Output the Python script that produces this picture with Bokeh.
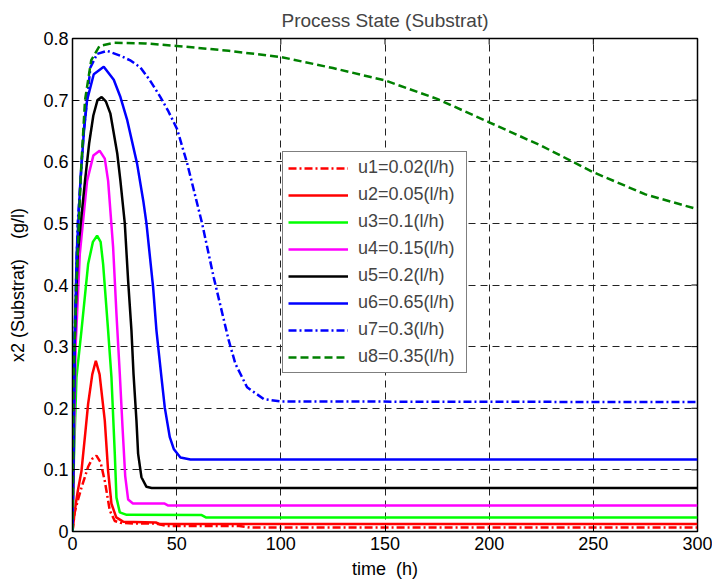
import math
from bokeh.plotting import figure
from bokeh.models import Range1d, FixedTicker, Legend, LegendItem, CustomJSTickFormatter
from bokeh.embed import file_html
from bokeh.resources import INLINE

# ---- data ----
t_u1 = [0, 1, 2.5, 4.3, 7.5, 9.5, 11.5, 13.5, 15.5, 17.9, 20.3, 23, 30, 40, 45, 80, 85, 300]
y_u1 = [0, 0.03, 0.05, 0.071, 0.105, 0.118, 0.123, 0.112, 0.082, 0.034, 0.017, 0.014, 0.013, 0.013, 0.009, 0.009, 0.0065, 0.0065]

t_u2 = [0, 1.1, 2.5, 4.3, 6, 7.5, 9.5, 11.2, 13, 15.5, 17.1, 18.7, 21, 24.3, 40, 42, 300]
y_u2 = [0, 0.034, 0.065, 0.098, 0.155, 0.207, 0.255, 0.277, 0.255, 0.18, 0.098, 0.045, 0.023, 0.016, 0.0146, 0.012, 0.012]

t_u3 = [0, 0.7, 1.9, 4.3, 7.5, 9.8, 11.8, 13.5, 14.7, 17.1, 18.7, 20.3, 21.1, 22.7, 26, 62, 64, 300]
y_u3 = [0, 0.12, 0.25, 0.326, 0.434, 0.47, 0.48, 0.47, 0.434, 0.326, 0.25, 0.126, 0.055, 0.031, 0.027, 0.0266, 0.0228, 0.0228]

t_u4 = [0, 1.5, 3.5, 7, 10, 13, 15.5, 17.1, 19.5, 21.1, 22.7, 24, 25.3, 26.7, 29, 44, 46, 300]
y_u4 = [0, 0.3, 0.45, 0.569, 0.61, 0.618, 0.605, 0.569, 0.461, 0.353, 0.256, 0.17, 0.09, 0.052, 0.0455, 0.0455, 0.042, 0.042]

t_u5 = [0, 1, 2.5, 6, 8, 10, 12, 14, 16, 18.2, 21.5, 23, 25.1, 26.7, 28.3, 29.3, 30.7, 31.5, 33.1, 35.5, 38, 300]
y_u5 = [0, 0.3, 0.45, 0.569, 0.63, 0.675, 0.70, 0.705, 0.698, 0.678, 0.613, 0.569, 0.50, 0.407, 0.326, 0.255, 0.18, 0.126, 0.088, 0.0725, 0.0705, 0.0705]

t_u6 = [0, 1, 2, 3.8, 5.5, 7, 10.2, 15, 19.8, 23, 26.3, 31, 34, 35.5, 38.7, 40.3, 42.7, 44.3, 46.7, 48.6, 51.8, 56.6, 300]
y_u6 = [0, 0.3, 0.45, 0.569, 0.65, 0.70, 0.742, 0.754, 0.733, 0.705, 0.667, 0.597, 0.536, 0.50, 0.396, 0.326, 0.25, 0.201, 0.153, 0.134, 0.120, 0.117, 0.117]

t_u7 = [0, 1, 2.5, 5.4, 8.6, 11.8, 16.6, 23, 28, 32.6, 37, 42.2, 46, 50.2, 55, 62.2, 67.8, 75, 78.2, 83.8, 91.8, 99.8, 300]
y_u7 = [0, 0.32, 0.5, 0.65, 0.753, 0.775, 0.780, 0.772, 0.764, 0.753, 0.733, 0.705, 0.682, 0.653, 0.598, 0.50, 0.412, 0.31, 0.272, 0.234, 0.215, 0.211, 0.21]

t_u8 = [0, 0.5, 2, 4, 6, 9, 13, 20, 35, 50, 75, 100, 125, 150, 175, 200, 225, 250, 275, 300]
y_u8 = [0, 0.25, 0.41, 0.58, 0.70, 0.765, 0.788, 0.793, 0.792, 0.788, 0.78, 0.77, 0.752, 0.732, 0.702, 0.664, 0.626, 0.583, 0.547, 0.523]

labels = ["u1=0.02(l/h)", "u2=0.05(l/h)", "u3=0.1(l/h)", "u4=0.15(l/h)",
          "u5=0.2(l/h)", "u6=0.65(l/h)", "u7=0.3(l/h)", "u8=0.35(l/h)"]
x_ticks = [0, 50, 100, 150, 200, 250, 300]
y_ticks = [0, 0.1, 0.2, 0.3, 0.4, 0.5, 0.6, 0.7, 0.8]

series = [(t_u1, y_u1), (t_u2, y_u2), (t_u3, y_u3), (t_u4, y_u4),
          (t_u5, y_u5), (t_u6, y_u6), (t_u7, y_u7), (t_u8, y_u8)]
colors = ["#FF0000", "#FF0000", "#00FF00", "#FF00FF", "#000000", "#0000FF", "#0000FF", "#008000"]
dashes = ["8 3 2 3", "solid", "solid", "solid", "solid", "solid", "8 3 2 3", "8 4"]

FONT = "Liberation Sans"

p = figure(width=712, height=585, output_backend="svg", toolbar_location=None,
           x_range=Range1d(x_ticks[0], x_ticks[-1]), y_range=Range1d(y_ticks[0], y_ticks[-1]),
           min_border_left=72, min_border_right=15, min_border_top=38, min_border_bottom=54,
           title="Process State (Substrat)")

p.title.align = "center"
p.title.vertical_align = "middle"
p.title.text_font = FONT
p.title.text_font_size = "19px"
p.title.text_font_style = "normal"
p.title.standoff = 13

p.outline_line_color = "black"
p.outline_line_width = 1.5
p.background_fill_color = "white"
p.border_fill_color = "white"

xt = FixedTicker(ticks=x_ticks)
yt = FixedTicker(ticks=y_ticks)
p.xaxis.ticker = xt
p.yaxis.ticker = yt
p.yaxis.formatter = CustomJSTickFormatter(code="return tick === 0 ? '0' : tick.toFixed(1);")
p.xaxis.axis_label = "time\u00a0\u00a0(h)"
p.yaxis.axis_label = "x2 (Substrat)\u00a0\u00a0\u00a0\u00a0(g/l)"

for ax in [p.xaxis[0], p.yaxis[0]]:
    ax.major_tick_in = 6
    ax.major_tick_out = 0
    ax.minor_tick_line_color = None
    ax.axis_line_color = "black"
    ax.major_tick_line_color = "black"
    ax.major_label_text_font = FONT
    ax.major_label_text_font_size = "18px"
    ax.major_label_text_color = "black"
    ax.axis_label_text_font = FONT
    ax.axis_label_text_font_size = "18px"
    ax.axis_label_text_font_style = "normal"
    ax.axis_label_text_color = "black"
p.xaxis.major_label_standoff = 5
p.xaxis.axis_label_standoff = 6
p.yaxis.major_label_standoff = 4
p.yaxis.axis_label_standoff = 12

for g in [p.xgrid[0], p.ygrid[0]]:
    g.grid_line_color = "#222222"
    g.grid_line_dash = "7 5"
    g.grid_line_width = 1

renderers = []
for (tt, yy), c, d in zip(series, colors, dashes):
    r = p.line(tt, yy, line_color=c, line_width=2.5, line_dash=d)
    renderers.append(r)

# inward tick marks on the top and right edges (box style), clipped to the frame
p.scatter(x=x_ticks, y=[y_ticks[-1]] * len(x_ticks), marker="dash", angle=math.pi / 2,
          size=12, line_color="black", line_width=1)
p.scatter(x=[x_ticks[-1]] * len(y_ticks), y=y_ticks, marker="dash",
          size=12, line_color="black", line_width=1)

legend = Legend(items=[LegendItem(label=l, renderers=[r]) for l, r in zip(labels, renderers)],
                location=(210, 158))
legend.border_line_color = "black"
legend.border_line_width = 1
legend.background_fill_color = "white"
legend.background_fill_alpha = 1
legend.label_text_font = FONT
legend.label_text_font_size = "18px"
legend.glyph_width = 60
legend.glyph_height = 20
legend.label_height = 20
legend.label_width = 103
legend.spacing = 6
legend.padding = 5
legend.margin = 0
legend.label_standoff = 10
p.add_layout(legend)

open("out.html", "w").write(file_html(p, INLINE))
